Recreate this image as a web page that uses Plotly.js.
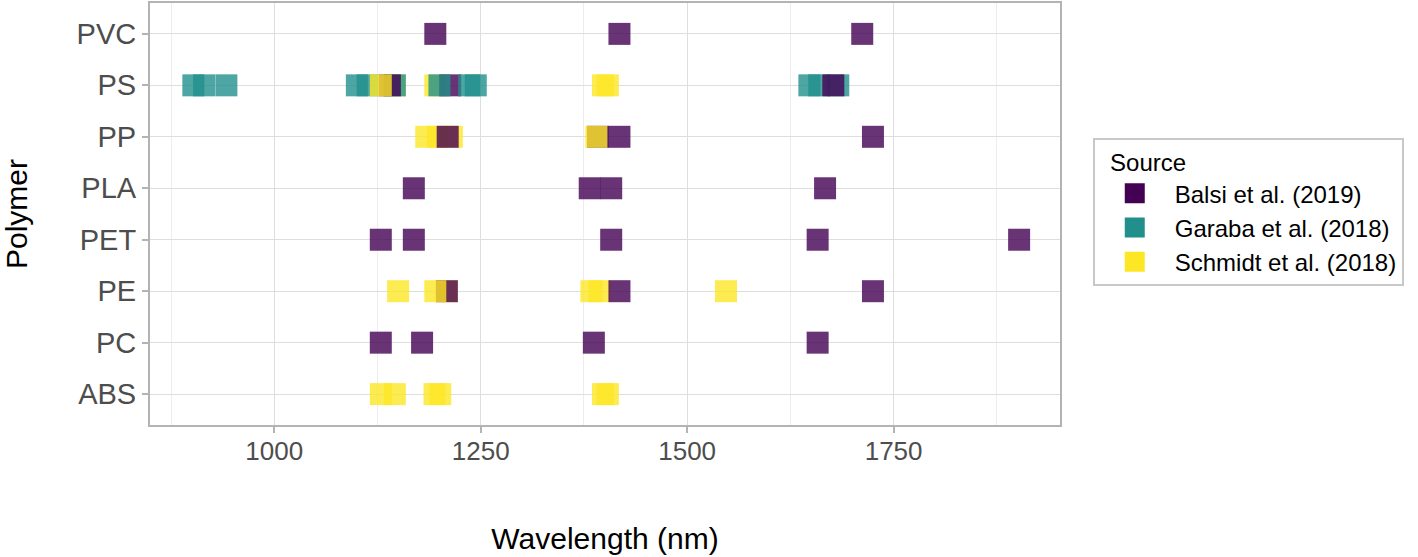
<!DOCTYPE html>
<html><head><meta charset="utf-8">
<script src="https://cdn.plot.ly/plotly-3.0.1.min.js"></script>
<style>html,body{margin:0;padding:0;background:#fff}#chart{width:1418px;height:557px}</style>
</head><body><div id="chart"></div>
<script>
// Category order, bottom to top
const polymers = ['ABS','PC','PE','PET','PLA','PP','PS','PVC'];
const sources = ['Balsi et al. (2019)','Garaba et al. (2018)','Schmidt et al. (2018)'];
const sourceColors = ['#440154','#21908C','#FDE725'];

// Absorption bands, in drawing order (0 = Balsi, 1 = Garaba, 2 = Schmidt)
const bandPolymer = [
  'PVC','PVC','PVC',
  'PS','PS','PS','PS','PS','PS','PS','PS','PS','PS','PS','PS','PS','PS','PS','PS','PS','PS','PS','PS',
  'PP','PP','PP','PP','PP','PP','PP','PP',
  'PLA','PLA','PLA','PLA',
  'PET','PET','PET','PET','PET',
  'PE','PE','PE','PE','PE','PE','PE','PE','PE',
  'PC','PC','PC','PC',
  'ABS','ABS','ABS','ABS','ABS','ABS'
];
const bandWavelength = [
  1195, 1418, 1712,
  902, 915, 942, 1100, 1113, 1146, 1146, 1140, 1129, 1195, 1213, 1200, 1236, 1244, 1398, 1404, 1648, 1660, 1683, 1677,
  1184, 1198, 1215, 1210, 1392, 1390, 1418, 1725,
  1169, 1382, 1408, 1667,
  1129, 1169, 1408, 1658, 1902,
  1150, 1209, 1209, 1195, 1384, 1394, 1418, 1547, 1725,
  1129, 1179, 1387, 1658,
  1129, 1146, 1194, 1201, 1398, 1404
];
const bandSource = [
  0, 0, 0,
  1, 1, 1, 1, 1, 2, 1, 0, 2, 2, 0, 1, 1, 1, 2, 2, 1, 1, 1, 0,
  2, 2, 2, 0, 0, 2, 0, 0,
  0, 0, 0, 0,
  0, 0, 0, 0, 0,
  2, 2, 0, 2, 2, 2, 0, 2, 0,
  0, 0, 0, 0,
  2, 2, 2, 2, 2, 2
];

const xTickVals = [1000, 1250, 1500, 1750];
const xMinorVals = [875, 1125, 1375, 1625, 1875];

const FONT = 'Liberation Sans, Arial, Helvetica, sans-serif';

const traces = [{
  type: 'scatter',
  mode: 'markers',
  x: bandWavelength,
  y: bandPolymer,
  text: bandSource.map(i => sources[i]),
  marker: {
    symbol: 'square',
    size: 22,
    color: bandSource.map(i => sourceColors[i]),
    opacity: 0.8,
    line: {width: 0}
  },
  showlegend: false,
  hovertemplate: '%{y}: %{x} nm<br>%{text}<extra></extra>'
}];
sources.forEach((s, i) => {
  traces.push({
    type: 'scatter', mode: 'markers', name: s,
    x: [null], y: [null],
    marker: {symbol: 'square', size: 22, color: sourceColors[i], line: {width: 4, color: sourceColors[i]}},
    showlegend: true
  });
});

const layout = {
  width: 1418, height: 557,
  margin: {l: 150, r: 358, t: 3, b: 132},
  paper_bgcolor: '#ffffff', plot_bgcolor: '#ffffff',
  font: {family: FONT, color: '#000000'},
  xaxis: {
    range: [849.5, 1951.5],
    tickvals: xTickVals,
    ticktext: xTickVals.map(String),
    showgrid: true, gridcolor: '#dedede', gridwidth: 1.3,
    minor: {tickvals: xMinorVals, showgrid: true, gridcolor: '#ededed', gridwidth: 1, ticks: ''},
    zeroline: false,
    showline: true, mirror: true, linecolor: '#b3b3b3', linewidth: 2,
    ticks: 'outside', ticklen: 6, tickwidth: 1.5, tickcolor: '#b3b3b3',
    ticklabelstandoff: -4,
    tickfont: {size: 26, color: '#4d4d4d', family: FONT},
    title: {text: 'Wavelength (nm)', font: {size: 30, color: '#000000', family: FONT}, standoff: 63},
    automargin: false
  },
  yaxis: {
    type: 'category',
    categoryorder: 'array', categoryarray: polymers,
    range: [-0.6, 7.6],
    showgrid: true, gridcolor: '#dedede', gridwidth: 1.3,
    zeroline: false,
    showline: true, mirror: true, linecolor: '#b3b3b3', linewidth: 2,
    ticks: 'outside', ticklen: 6, tickwidth: 1.5, tickcolor: '#b3b3b3',
    tickfont: {size: 29, color: '#4d4d4d', family: FONT},
    title: {text: 'Polymer', font: {size: 30, color: '#000000', family: FONT}, standoff: 40},
    automargin: false
  },
  legend: {
    x: 1.036, y: 0.68, xanchor: 'left', yanchor: 'top',
    bordercolor: '#c8c8c8', borderwidth: 2, bgcolor: '#ffffff',
    font: {size: 24, color: '#000000', family: FONT},
    title: {text: '\u00a0\u00a0Source', font: {size: 24, color: '#000000', family: FONT}},
    itemwidth: 70, tracegroupgap: 0
  },
  hovermode: 'closest'
};

Plotly.newPlot('chart', traces, layout, {displayModeBar: false, responsive: false});
</script>
</body></html>
